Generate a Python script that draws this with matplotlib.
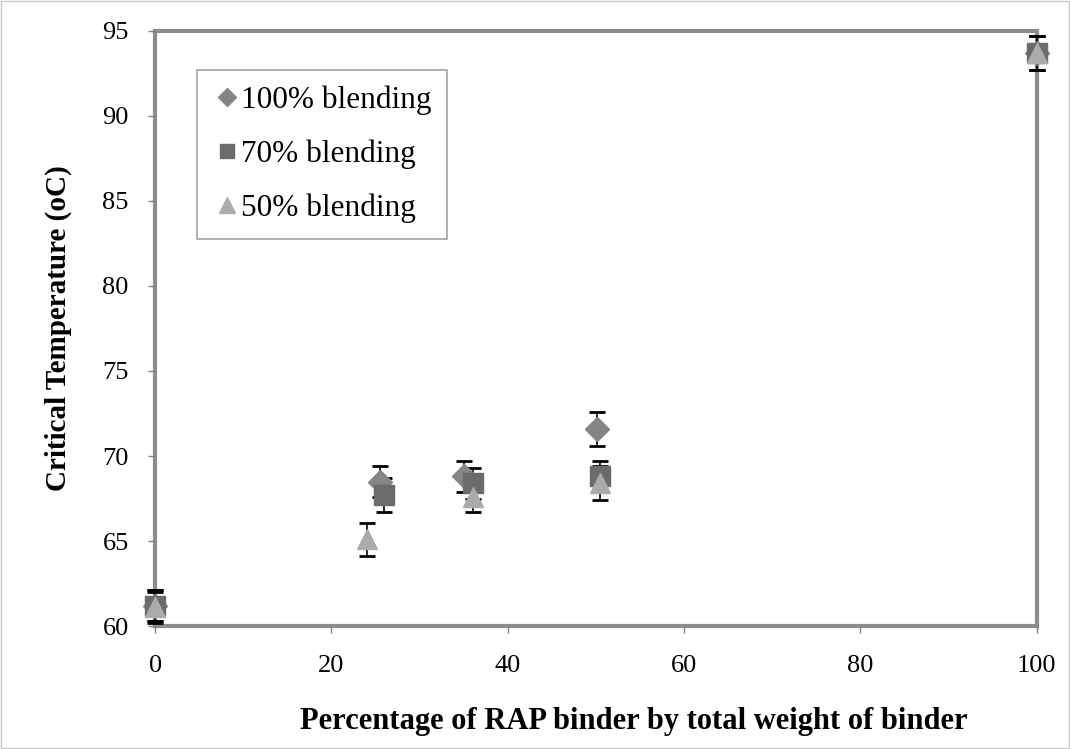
import numpy as np
import matplotlib.pyplot as plt
from matplotlib.lines import Line2D

plt.rcParams['font.family'] = ['Liberation Serif', 'DejaVu Serif']

# RAP binder content (%) and critical temperature (oC) per blending level
x_100 = [0, 25.5, 35.0, 50.1, 100]
y_100 = [61.2, 68.5, 68.8, 71.6, 93.7]
e_100 = [0.9, 0.9, 0.9, 1.0, 1.0]

x_70 = [0, 25.9, 36.1, 50.4, 100]
y_70 = [61.2, 67.7, 68.4, 68.8, 93.7]
e_70 = [0.9, 1.0, 0.9, 0.9, 1.0]

x_50 = [0, 24.0, 36.0, 50.5, 100]
y_50 = [61.1, 65.1, 67.6, 68.4, 93.7]
e_50 = [0.9, 0.95, 0.9, 1.0, 1.0]

xticks = [0, 20, 40, 60, 80, 100]
yticks = [60, 65, 70, 75, 80, 85, 90, 95]

fig = plt.figure(figsize=(10.7, 7.49), dpi=100)
ax = fig.add_axes([0.145, 0.164, 0.824, 0.795])

series = [
    (x_100, y_100, e_100, 'D', 12, '#858585', '100% blending'),
    (x_70, y_70, e_70, 's', 14, '#6b6b6b', '70% blending'),
    (x_50, y_50, e_50, '^', 15, '#ababab', '50% blending'),
]
handles = []
for xs, ys, es, mk, ms, col, lab in series:
    ax.errorbar(xs, ys, yerr=es, fmt=mk, ms=ms, color=col, mec=col,
                ecolor='black', elinewidth=1.2, capsize=6, capthick=2,
                zorder=5, clip_on=False)
    handles.append(Line2D([], [], ls='none', marker=mk, ms=ms * 0.75,
                          color=col, mec=col, label=lab))

ax.set_xlim(0, 100)
ax.set_ylim(60, 95)
ax.set_xticks(xticks)
ax.set_yticks(yticks)
ax.tick_params(labelsize=19, length=5, width=1, color='#808080')
ax.tick_params(axis='x', pad=16)
ax.tick_params(axis='y', pad=14)
for s in ax.spines.values():
    s.set_color('#8c8c8c')
    s.set_linewidth(3)
    s.set_zorder(1)

ax.set_xlabel('Percentage of RAP binder by total weight of binder',
              fontsize=22, fontweight='bold')
ax.xaxis.set_label_coords(0.543, -0.135)
ax.set_ylabel('Critical Temperature (oC)', fontsize=21, fontweight='bold',
              labelpad=22)

leg = ax.legend(handles=handles, loc='upper left',
                bbox_to_anchor=(0.048, 0.934), fontsize=22.5,
                frameon=True, fancybox=False, borderpad=0.5,
                labelspacing=0.78, handletextpad=0.0, handlelength=0.9,
                borderaxespad=0)
leg.get_frame().set_edgecolor('#8c8c8c')
leg.get_frame().set_linewidth(1.2)

fig.patches.append(plt.Rectangle((0.001, 0.001), 0.998, 0.998,
                                 transform=fig.transFigure, fill=False,
                                 edgecolor='#c8c8c8', linewidth=1))

fig.savefig('out.png', dpi=100)
